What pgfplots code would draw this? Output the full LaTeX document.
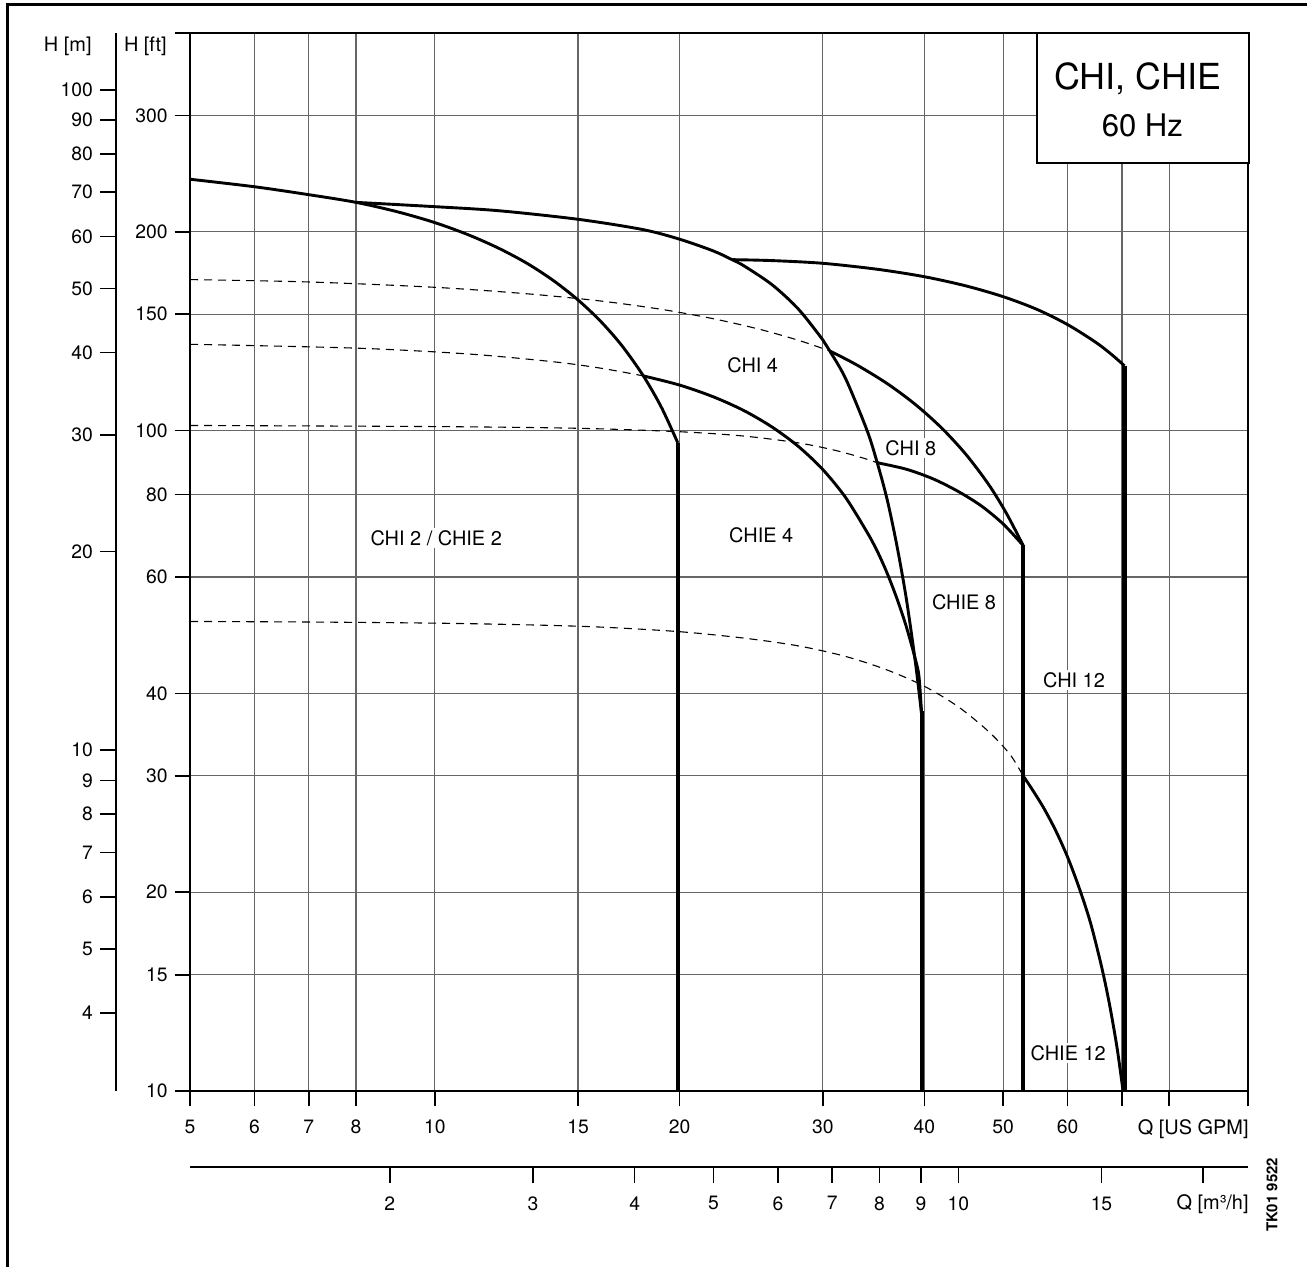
\documentclass[border=0pt]{standalone}
\usepackage{pgfplots}
\pgfplotsset{compat=1.18}
\usepackage{fontspec}
\setmainfont{TeX Gyre Heros}

\tikzset{
  curve/.style={black, line width=1.45bp},
  vline/.style={black, line width=2.1bp},
  dcurve/.style={black, line width=0.55bp, dash pattern=on 4bp off 3bp},
  lab/.style={fill=white, inner sep=1.2bp, font=\fontsize{10}{12}\selectfont},
}

\begin{document}
\begin{tikzpicture}[x=1bp,y=1bp]
\useasboundingbox (-95,-88) rectangle (558.5,545.5);
\draw[line width=1.5bp] (-91,-90) -- (-91,543) -- (560,543);

% main axis: Q [US GPM] vs H [ft]
\begin{axis}[
  at={(0bp,0bp)}, anchor=south west,
  scale only axis, width=529bp, height=529bp,
  xmode=log, ymode=log,
  xmin=5, xmax=100, ymin=10, ymax=400,
  xtick={5,6,7,8,10,15,20,30,40,50,60,70,80,100},
  xticklabels={5,6,7,8,10,15,20,30,40,50,60,,,},
  ytick={10,15,20,30,40,60,80,100,150,200,300,400},
  yticklabels={10,15,20,30,40,60,80,100,150,200,300,},
  minor xtick={}, minor ytick={},
  grid=major,
  major grid style={black!60, line width=0.6bp},
  tick align=outside, xtick pos=bottom, ytick pos=left,
  major tick length=7.75bp,
  tick style={black, line width=0.8bp},
  axis line style={black, line width=0.9bp},
  ticklabel style={font=\fontsize{9.7}{11}\selectfont},
  xticklabel style={yshift=-3.3bp},
  /pgf/number format/assume math mode=true,
  clip=false,
]
% dashed curves
\addplot[dcurve, smooth, mark=none] coordinates {(5,169.3) (7,167.9) (10,164.8) (13,161.1) (16,157.1) (19,152.6) (22,147.7) (25,142.5) (28,137.0) (30.6,132.0)};
\addplot[dcurve, smooth, mark=none] coordinates {(5,135.1) (8,133.3) (11,130.6) (14,127.1) (16,124.3) (18.05,121.0)};
\addplot[dcurve, smooth, mark=none] coordinates {(5,101.8) (10,101.4) (15,100.8) (20,99.6) (24,98.1) (28,95.8) (31,93.4) (33.5,91.0) (35,89.4)};
\addplot[dcurve, smooth, mark=none] coordinates {(5,51.4) (7,51.3) (10,51.1) (13,50.8) (16,50.4) (20,49.6) (24,48.5) (28,47.2) (32,45.5) (36,43.4) (40,41.0) (44,38.2) (48,35.0) (51,32.3) (52.9,30.0)};

% CHI 2 (from 5 GPM to its 20 GPM limit)
\addplot[curve, smooth, mark=none] coordinates {(5,240.2) (6,234.0) (7,227.6) (8,221.6) (9,214.4) (10,206.5) (11,197.9) (12,188.7) (13,179.0) (14,168.6) (15,157.7) (16,146.3) (17,134.3) (18.05,121.0) (19,108.4) (19.9,95.8)};
\addplot[vline, mark=none] coordinates {(19.9,95.8) (19.9,10)};
% CHI 4 (upper curve from 8 GPM down to the 40 GPM limit)
\addplot[curve, smooth, mark=none] coordinates {(8,221.6) (10,218.3) (12,215.2) (15,208.9) (18,201.6) (20,194.9) (22,187.1) (23.2,181.5) (24,177.6) (26,166.2) (28,152.7) (30,137.2) (30.6,132.0) (32,119.9) (34,100.1) (35,89.4) (36,78.6) (37,67.0) (38,55.7) (39,44.5) (39.7,37.1)};
% CHIE 4
\addplot[curve, smooth, mark=none] coordinates {(18.05,121.0) (20,117.2) (22,112.5) (24,107.2) (26,101.2) (28,94.6) (30,87.3) (32,79.2) (34,70.2) (35,65.7) (36,60.8) (37,55.7) (38,50.5) (39,45.0) (39.4,42.4) (39.7,37.1)};
\addplot[vline, mark=none] coordinates {(39.7,37.6) (39.7,10)};
% CHI 12
\addplot[curve, smooth, mark=none] coordinates {(23.2,181.5) (26,180.9) (30,179.2) (35,175.5) (40,171.0) (45,165.6) (50,159.5) (55,152.6) (60,144.7) (65,136.0) (68,130.3) (70.5,125.3)};
\addplot[vline, mark=none] coordinates {(70.5,125.3) (70.5,10)};
% CHI 8
\addplot[curve, smooth, mark=none] coordinates {(30.6,132.0) (33,125.8) (36,117.8) (39,109.5) (42,100.9) (45,92.0) (48,82.8) (50.5,74.8) (52.9,67.0)};
% CHIE 8
\addplot[curve, smooth, mark=none] coordinates {(35,89.4) (38,87.4) (41,84.5) (44,80.9) (47,76.9) (50,72.2) (52.9,67.0)};
\addplot[vline, mark=none] coordinates {(52.9,67.0) (52.9,10)};
% CHIE 12
\addplot[curve, smooth, mark=none] coordinates {(52.9,30.0) (54,28.9) (56,26.9) (58,24.8) (60,22.6) (62,20.3) (64,18.0) (66,15.5) (67.5,13.6) (69,11.65) (70.2,10.0)};

\node[lab] at (axis cs:10.04,68.8) {CHI 2 / CHIE 2};
\node[lab] at (axis cs:24.6,125.7) {CHI 4};
\node[lab] at (axis cs:25.2,69.5) {CHIE 4};
\node[lab] at (axis cs:38.5,94.1) {CHI 8};
\node[lab] at (axis cs:44.75,55.0) {CHIE 8};
\node[lab] at (axis cs:61.1,41.9) {CHI 12};
\node[lab] at (axis cs:60.1,11.4) {CHIE 12};
\end{axis}

% H [m] axis
\begin{axis}[
  at={(-37bp,0bp)}, anchor=south west,
  scale only axis, width=10bp, height=529bp,
  ymode=log, ymin=3.048, ymax=121.92, xmin=0, xmax=1,
  hide x axis, axis y line*=left,
  ytick={4,5,6,7,8,9,10,20,30,40,50,60,70,80,90,100},
  yticklabels={4,5,6,7,8,9,10,20,30,40,50,60,70,80,90,100},
  minor ytick={},
  tick align=outside, major tick length=8bp,
  tick style={black, line width=0.8bp},
  axis line style={black, line width=0.8bp, -},
  ticklabel style={font=\fontsize{9.7}{11}\selectfont},
  /pgf/number format/assume math mode=true,
]
\addplot[draw=none] coordinates {(0,10) (1,10)};
\end{axis}

% Q [m3/h] axis
\begin{axis}[
  at={(0bp,-37.85bp)}, anchor=south west,
  scale only axis, width=529bp, height=10bp,
  xmode=log, xmin=1.13562, xmax=22.7124, ymin=0, ymax=1,
  hide y axis, axis x line*=bottom,
  xtick={2,3,4,5,6,7,8,9,10,15,20},
  xticklabels={2,3,4,5,6,7,8,9,10,15,},
  minor xtick={},
  tick align=outside, major tick length=8bp,
  tick style={black, line width=0.8bp},
  axis line style={black, line width=0.9bp, -},
  ticklabel style={font=\fontsize{9.7}{11}\selectfont},
  xticklabel style={yshift=-3.3bp},
  /pgf/number format/assume math mode=true,
]
\addplot[draw=none] coordinates {(2,0.5) (3,0.5)};
\end{axis}

% title box
\draw[line width=0.8bp, fill=white] (423.5,464) rectangle (529.5,529);
\node[anchor=base, inner sep=0pt, font=\fontsize{18}{20}\selectfont] at (473.8,500.5) {CHI, CHIE};
\node[anchor=base, inner sep=0pt, font=\fontsize{15.6}{18}\selectfont] at (476.2,477.2) {60 Hz};

% axis names
\node[anchor=base east, inner sep=0pt, font=\fontsize{10}{12}\selectfont] at (-49,519.5) {H [m]};
\node[anchor=base east, inner sep=0pt, font=\fontsize{10}{12}\selectfont] at (-11.5,519.5) {H [ft]};
\node[anchor=base east, inner sep=0pt, font=\fontsize{10}{12}\selectfont] at (529.5,-22) {Q [US GPM]};
\node[anchor=base east, inner sep=0pt, font=\fontsize{10}{12}\selectfont] at (529.5,-59) {Q [m³/h]};
\node[rotate=90, inner sep=0pt, font=\fontsize{7.5}{9}\selectfont\bfseries] at (541,-52) {TK01 9522};
\end{tikzpicture}
\end{document}
